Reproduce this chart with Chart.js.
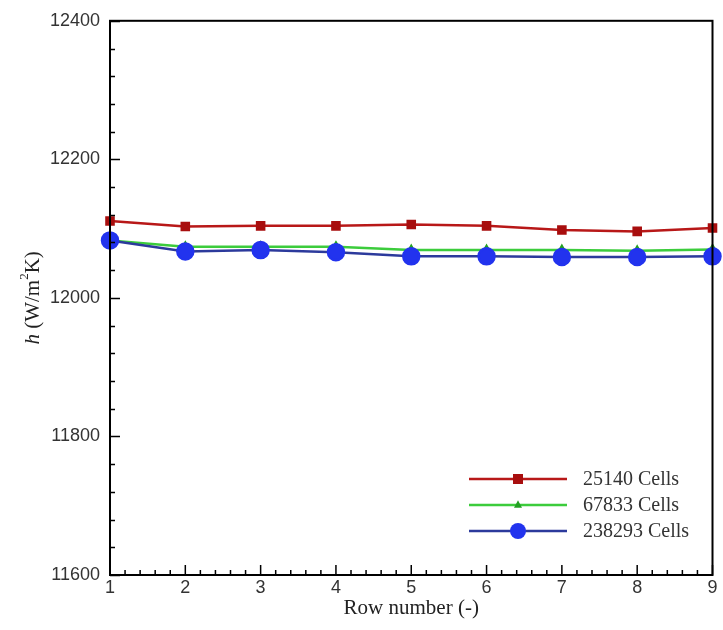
<!DOCTYPE html>
<html>
<head>
<meta charset="utf-8">
<script src="https://cdn.jsdelivr.net/npm/chart.js@4.4.1/dist/chart.umd.min.js"></script>
<style>
  html, body { margin: 0; padding: 0; background: #fff; }
  #wrap { width: 723px; height: 630px; }
</style>
</head>
<body>
<div id="wrap"><canvas id="c" width="723" height="630"></canvas></div>
<script>
/* h vs row number for three mesh sizes */
var ROWS = ['1', '2', '3', '4', '5', '6', '7', '8', '9'];
var H_25140 = [12111, 12103, 12104, 12104, 12106, 12104, 12098, 12096, 12101];
var H_67833 = [12083, 12074, 12074, 12074, 12069, 12069, 12069, 12068, 12070];
var H_238293 = [12083, 12067, 12069, 12066, 12060, 12060, 12059, 12059, 12060];
var Y_TICKS = [11600, 11800, 12000, 12200, 12400];
var SERIES_NAMES = ['25140 Cells', '67833 Cells', '238293 Cells'];

var SERIF = '"Liberation Serif", "Times New Roman", serif';
var SANS = '"Liberation Sans", Arial, sans-serif';

/* inward ticks, frame, y title and legend drawn on top */
var frame = {
  id: 'frame',
  afterDraw: function (chart) {
    var ctx = chart.ctx, a = chart.chartArea;
    var xs = chart.scales.x, ys = chart.scales.y;
    ctx.save();
    ctx.strokeStyle = '#000';
    ctx.lineWidth = 2;
    ctx.strokeRect(a.left, a.top, a.right - a.left, a.bottom - a.top);

    ctx.lineWidth = 1.5;
    ctx.beginPath();
    /* y ticks: major every 200, minor every 40 */
    for (var v = Y_TICKS[0]; v <= Y_TICKS[Y_TICKS.length - 1]; v += 40) {
      var py = Math.round(ys.getPixelForValue(v)) + 0.5;
      var len = (v % 200 === 0) ? 10 : 5;
      ctx.moveTo(a.left, py); ctx.lineTo(a.left + len, py);
    }
    /* x ticks: major each row, 4 minor between */
    for (var i = 0; i < ROWS.length; i++) {
      var p0 = xs.getPixelForValue(i);
      ctx.moveTo(p0, a.bottom); ctx.lineTo(p0, a.bottom - 10);
      if (i < ROWS.length - 1) {
        var p1 = xs.getPixelForValue(i + 1);
        for (var k = 1; k < 5; k++) {
          var pm = p0 + (p1 - p0) * k / 5;
          ctx.moveTo(pm, a.bottom); ctx.lineTo(pm, a.bottom - 5);
        }
      }
    }
    ctx.stroke();

    /* y axis title with italic h */
    ctx.save();
    ctx.translate(33, (a.top + a.bottom) / 2);
    ctx.rotate(-Math.PI / 2);
    ctx.fillStyle = '#222';
    ctx.textBaseline = 'middle';
    ctx.font = 'italic 21px ' + SERIF;
    var w1 = ctx.measureText('h ').width;
    ctx.font = '21px ' + SERIF;
    var w2 = ctx.measureText('(W/m').width;
    ctx.font = '13px ' + SERIF;
    var w3 = ctx.measureText('2').width;
    ctx.font = '21px ' + SERIF;
    var w4 = ctx.measureText('K)').width;
    var x0 = -(w1 + w2 + w3 + w4) / 2;
    ctx.textAlign = 'left';
    ctx.font = 'italic 21px ' + SERIF;
    ctx.fillText('h ', x0, 0);
    ctx.font = '21px ' + SERIF;
    ctx.fillText('(W/m', x0 + w1, 0);
    ctx.font = '13px ' + SERIF;
    ctx.fillText('2', x0 + w1 + w2, -8);
    ctx.font = '21px ' + SERIF;
    ctx.fillText('K)', x0 + w1 + w2 + w3, 0);
    ctx.restore();

    /* legend */
    var rowsY = [479, 505, 531];
    chart.data.datasets.forEach(function (ds, j) {
      var y = rowsY[j];
      ctx.strokeStyle = ds.borderColor;
      ctx.lineWidth = 2.5;
      ctx.beginPath(); ctx.moveTo(469, y); ctx.lineTo(567, y); ctx.stroke();
      ctx.fillStyle = ds.pointBackgroundColor;
      var r = ds.pointRadius;
      ctx.beginPath();
      if (ds.pointStyle === 'rect') {
        ctx.rect(518 - r, y - r, 2 * r, 2 * r);
      } else if (ds.pointStyle === 'triangle') {
        ctx.moveTo(518, y - r * 1.2); ctx.lineTo(518 + r, y + r * 0.7); ctx.lineTo(518 - r, y + r * 0.7); ctx.closePath();
      } else {
        ctx.arc(518, y, r, 0, Math.PI * 2);
      }
      ctx.fill();
      ctx.fillStyle = '#333';
      ctx.font = '20px ' + SERIF;
      ctx.textAlign = 'left';
      ctx.textBaseline = 'middle';
      ctx.fillText(ds.label, 583, y + 1);
    });
    ctx.restore();
  }
};

new Chart(document.getElementById('c'), {
  type: 'line',
  data: {
    labels: ROWS,
    datasets: [
      { label: SERIES_NAMES[0], data: H_25140, borderColor: '#b81818', backgroundColor: '#a80e0e',
        pointBackgroundColor: '#a80e0e', pointBorderColor: '#a80e0e', pointStyle: 'rect', pointRadius: 5,
        borderWidth: 2.5, order: 2 },
      { label: SERIES_NAMES[1], data: H_67833, borderColor: '#3ccc3c', backgroundColor: '#22a022',
        pointBackgroundColor: '#22a022', pointBorderColor: '#22a022', pointStyle: 'triangle', pointRadius: 4,
        borderWidth: 2.5, order: 1 },
      { label: SERIES_NAMES[2], data: H_238293, borderColor: '#2c3a9c', backgroundColor: '#2233ee',
        pointBackgroundColor: '#2233ee', pointBorderColor: '#2233ee', pointStyle: 'circle', pointRadius: 8,
        borderWidth: 2.5, order: 0 }
    ]
  },
  options: {
    responsive: false,
    animation: false,
    layout: { padding: { top: 18, right: 9, left: 0, bottom: 0 } },
    plugins: { legend: { display: false }, tooltip: { enabled: false } },
    elements: { line: { tension: 0 } },
    scales: {
      x: {
        offset: false,
        grid: { display: false, drawTicks: false },
        border: { display: false },
        ticks: { color: '#333', font: { family: SANS, size: 18 }, padding: 2, maxRotation: 0, autoSkip: false },
        title: { display: true, text: 'Row number (-)', color: '#222', font: { family: SERIF, size: 21 }, padding: { top: 0, bottom: 9 } },
        afterFit: function (s) { s.height = 55; }
      },
      y: {
        min: 11600, max: 12400,
        grid: { display: false, drawTicks: false },
        border: { display: false },
        afterBuildTicks: function (s) { s.ticks = Y_TICKS.map(function (v) { return { value: v }; }); },
        ticks: { color: '#333', font: { family: SANS, size: 18 }, padding: 10, callback: function (v) { return String(v); } },
        afterFit: function (s) { s.width = 110; }
      }
    }
  },
  plugins: [frame]
});
</script>
</body>
</html>
